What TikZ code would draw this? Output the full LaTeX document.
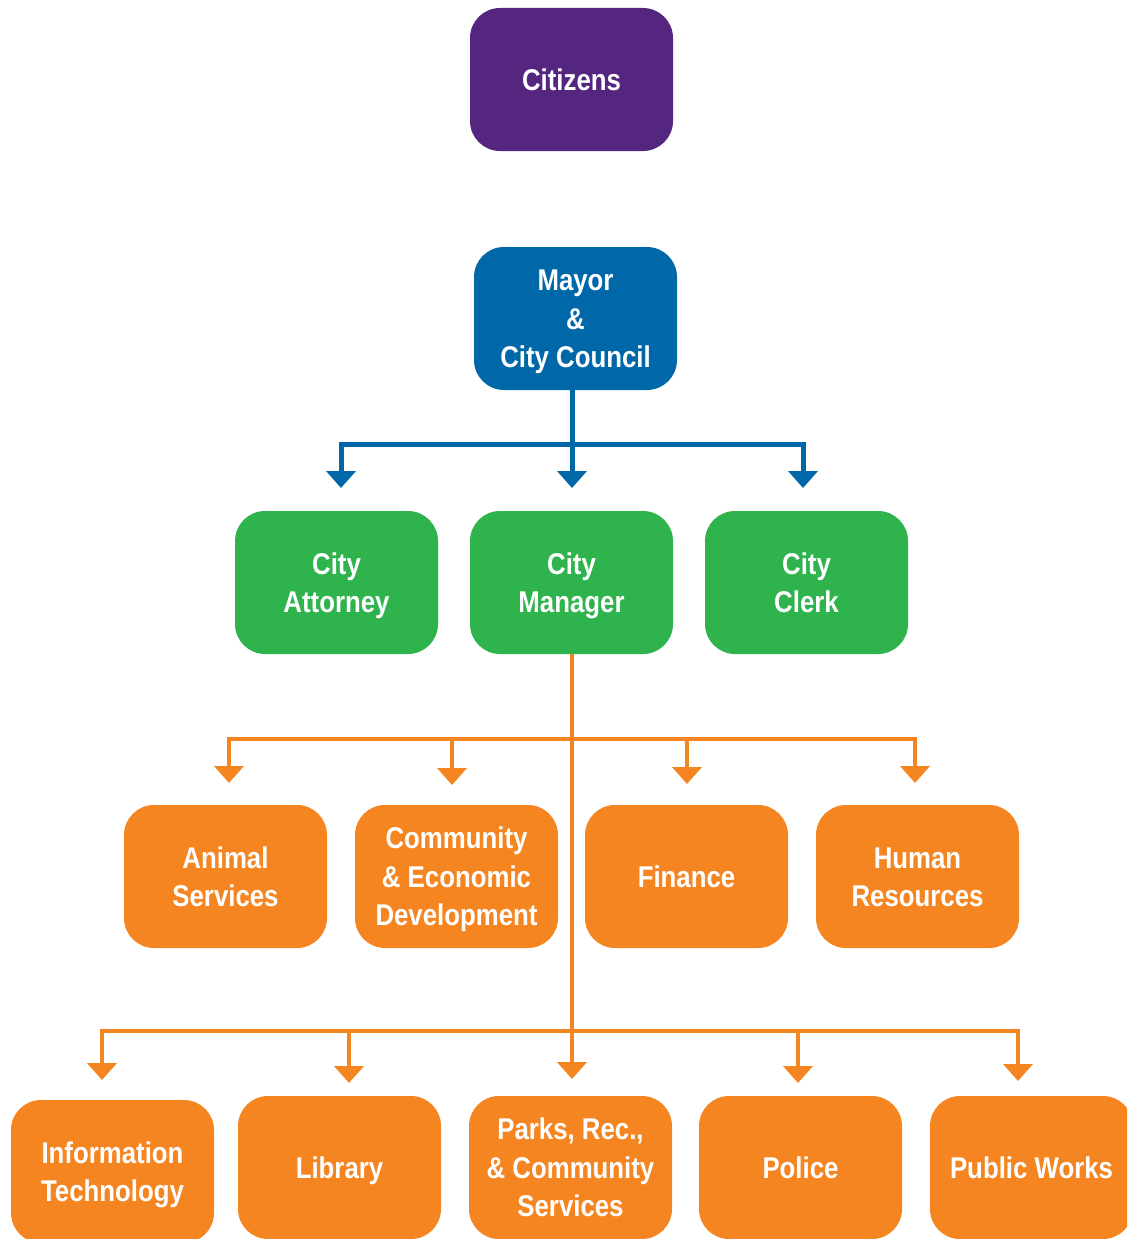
\documentclass[tikz,border=0pt]{standalone}
\usepackage{fontspec}
\setmainfont{Liberation Sans}[FakeStretch=0.86]
\usetikzlibrary{arrows.meta}
\definecolor{cpurple}{HTML}{55267F}
\definecolor{cblue}{HTML}{0067A9}
\definecolor{cgreen}{HTML}{2EB34D}
\definecolor{corange}{HTML}{F58521}
\newcommand\bxt[1]{\begin{tabular}{@{}c@{}}\rule{0pt}{33.5pt}#1\end{tabular}}
\begin{document}
\begin{tikzpicture}[x=1pt,y=-1pt,
  box/.style={rounded corners=30pt, minimum width=203pt, minimum height=143pt, inner sep=0pt,
    text=white, font=\bfseries\fontsize{30}{38.5}\selectfont},
  pbox/.style={box, fill=cpurple},
  bbox/.style={box, fill=cblue},
  gbox/.style={box, fill=cgreen},
  obox/.style={box, fill=corange},
  bline/.style={draw=cblue, line width=5pt, line cap=rect},
  oline/.style={draw=corange, line width=4.5pt, line cap=rect},
  tip/.style={line cap=butt, -{Triangle[width=29pt,length=17pt]}}
]
\useasboundingbox (0,0) rectangle (1127,1239);
\clip (0,0) rectangle (1127,1239);

% nodes
\node[pbox] (cit) at (571.5,79.5) {\bxt{Citizens}};
\node[bbox] (mayor) at (575.5,318.5) {\bxt{Mayor\\\&\\City Council}};

\node[gbox] (att) at (336.5,582.5) {\bxt{City\\Attorney}};
\node[gbox] (mgr) at (571.5,582.5) {\bxt{City\\Manager}};
\node[gbox] (clerk) at (806.5,582.5) {\bxt{City\\Clerk}};

\node[obox] (animal) at (225.5,876.5) {\bxt{Animal\\Services}};
\node[obox] (comm) at (456.5,876.5) {\bxt{Community\\\& Economic\\Development}};
\node[obox] (fin) at (686.5,876.5) {\bxt{Finance}};
\node[obox] (hr) at (917.5,876.5) {\bxt{Human\\Resources}};

\node[obox] (it) at (112.5,1171.5) {\bxt{Information\\Technology}};
\node[obox] (lib) at (339.5,1167.5) {\bxt{Library}};
\node[obox] (parks) at (570.5,1167.5) {\bxt{Parks, Rec.,\\\& Community\\Services}};
\node[obox] (police) at (800.5,1167.5) {\bxt{Police}};
\node[obox] (pw) at (1031.5,1167.5) {\bxt{Public Works}};

% blue connectors
\coordinate (bj) at (572,444);
\coordinate (bl) at (341,444);
\coordinate (br) at (803,444);
\coordinate (tatt) at (341,488);
\coordinate (tmgr) at (572,488);
\coordinate (tclerk) at (803,488);
\draw[bline] (mayor.south -| bj) -- (bj);
\draw[bline] (bl) -- (br);
\draw[bline,tip] (bl) -- (tatt);
\draw[bline,tip] (bj) -- (tmgr);
\draw[bline,tip] (br) -- (tclerk);

% orange connectors, row 3
\coordinate (oj1) at (572,739);
\coordinate (o1a) at (229,739);
\coordinate (o1b) at (452,739);
\coordinate (o1c) at (687,739);
\coordinate (o1d) at (915,739);
\coordinate (tanimal) at (229,783);
\coordinate (tcomm) at (452,785);
\coordinate (tfin) at (687,784);
\coordinate (thr) at (915,783);
\draw[oline] (o1a) -- (o1d);
\draw[oline,tip] (o1a) -- (tanimal);
\draw[oline,tip] (o1b) -- (tcomm);
\draw[oline,tip] (o1c) -- (tfin);
\draw[oline,tip] (o1d) -- (thr);

% orange connectors, row 4
\coordinate (o2a) at (102,1031);
\coordinate (o2b) at (349,1031);
\coordinate (o2c) at (572,1031);
\coordinate (o2d) at (798,1031);
\coordinate (o2e) at (1018,1031);
\coordinate (tit) at (102,1080);
\coordinate (tlib) at (349,1083);
\coordinate (tparks) at (572,1079);
\coordinate (tpolice) at (798,1083);
\coordinate (tpw) at (1018,1081);
\draw[oline] (o2a) -- (o2e);
\draw[oline,tip] (mgr.south -| o2c) -- (tparks);
\draw[oline,tip] (o2a) -- (tit);
\draw[oline,tip] (o2b) -- (tlib);
\draw[oline,tip] (o2d) -- (tpolice);
\draw[oline,tip] (o2e) -- (tpw);
\end{tikzpicture}
\end{document}
